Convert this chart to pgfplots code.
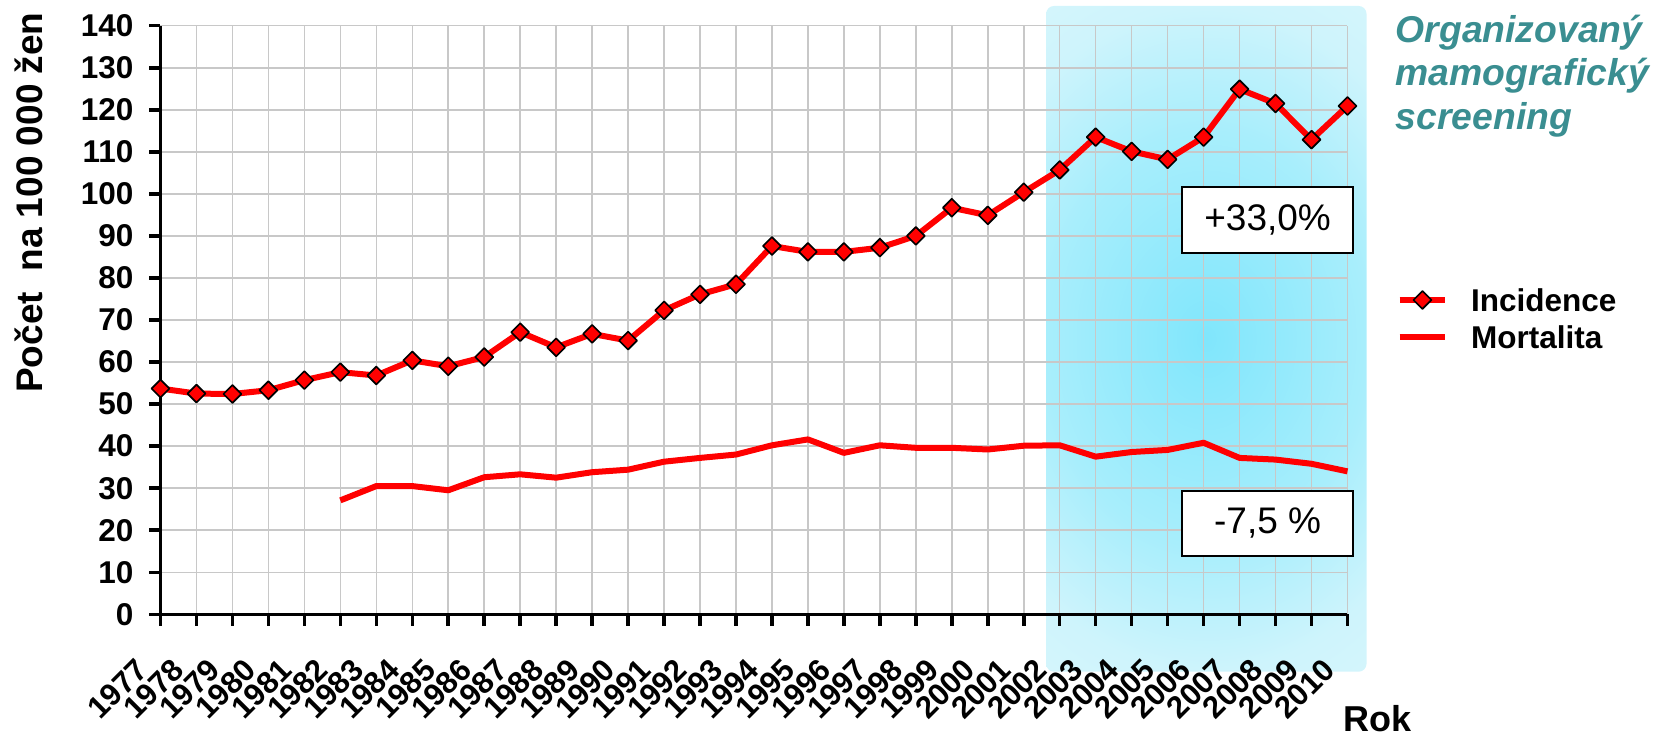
\documentclass[border=0pt]{standalone}
\usepackage{fontspec}
\setmainfont{Liberation Sans}
\usepackage{pgfplots}
\pgfplotsset{compat=1.18}
\definecolor{gridgray}{RGB}{200,200,200}
\definecolor{tealtxt}{RGB}{58,142,145}
\definecolor{sc0}{RGB}{128,230,252}
\definecolor{sc1}{RGB}{168,238,252}
\definecolor{sc2}{RGB}{206,244,252}
\definecolor{sc3}{RGB}{220,247,253}
\pgfdeclareradialshading{screen}{\pgfpoint{0bp}{0bp}}{color(0bp)=(sc0); color(15.6bp)=(sc1); color(25bp)=(sc2); color(36bp)=(sc3); color(50bp)=(sc3)}

\begin{document}
\begin{tikzpicture}
\begin{axis}[
  set layers,
  scale only axis, width=356.1pt, height=176.58pt,
  at={(0,0)}, anchor=south west,
  xmin=1977, xmax=2010, ymin=0, ymax=140,
  xtick={1977,1978,...,2010}, ytick={0,10,...,140},
  axis x line*=bottom, axis y line*=left,
  axis line style={line width=1.05pt, -},
  tick align=outside, major tick length=3.45pt,
  tick style={line width=1.05pt, black},
  grid=major, grid style={gridgray, line width=0.45pt},
  clip=false,
  /pgf/number format/assume math mode=true,
  /pgf/number format/1000 sep={},
  xticklabel style={inner sep=0pt, font=\bfseries\fontsize{9.3}{10}\selectfont, xshift=-5.4pt, yshift=-11.4pt, rotate=45, anchor=east},
  yticklabel style={inner sep=0pt, font=\bfseries\fontsize{9.45}{10}\selectfont, xshift=-4.5pt, anchor=east},
  ylabel={Počet\ \ na 100 000 žen},
  ylabel style={font=\bfseries\fontsize{11.1}{12}\selectfont, inner sep=0pt, at={(axis description cs:-0.09975,0.6995)}, anchor=base},
  xlabel={Rok},
  xlabel style={font=\bfseries\fontsize{10.8}{12}\selectfont, inner sep=0pt, at={(axis description cs:0.9958,-0.1995)}, anchor=base west},
  legend style={at={(axis description cs:1.0409,0.5026)}, anchor=west, draw=none, fill=none, inner sep=0pt,
    row sep=4.3pt, column sep=6.9pt, font=\bfseries\fontsize{9.45}{10}\selectfont,
    nodes={inner sep=0pt, text height=6.8pt, text depth=0pt}},
  legend cell align=left,
  legend image code/.code={\draw[mark repeat=2, mark phase=2, #1] plot coordinates {(0pt,0pt) (6.825pt,0pt) (13.65pt,0pt)};},
]
\begin{pgfonlayer}{axis background}
\begin{scope}
\clip[rounded corners=2.4pt] (axis cs:2001.62,-13.65) rectangle (axis cs:2010.53,144.7);
\shade[shading=screen] (axis cs:1998.94,-13.65) rectangle (axis cs:2013.2,144.7);
\end{scope}
\end{pgfonlayer}

\addplot[red, line width=1.8pt, line join=round, mark=square*, mark size=1.9pt,
  mark options={rotate=45, fill=red, draw=black, line width=0.5pt}] coordinates {
(1977,53.7) (1978,52.5) (1979,52.4) (1980,53.3) (1981,55.7) (1982,57.6) (1983,56.8)
(1984,60.4) (1985,59.0) (1986,61.2) (1987,67.1) (1988,63.5) (1989,66.7) (1990,65.1)
(1991,72.3) (1992,76.1) (1993,78.5) (1994,87.6) (1995,86.2) (1996,86.2) (1997,87.2)
(1998,90.0) (1999,96.7) (2000,94.9) (2001,100.4) (2002,105.7) (2003,113.5) (2004,110.1)
(2005,108.2) (2006,113.5) (2007,124.9) (2008,121.5) (2009,112.9) (2010,120.9)};
\addlegendentry{Incidence}
\addplot[red, line width=1.8pt, line join=round] coordinates {
(1982,27.1) (1983,30.5) (1984,30.5) (1985,29.5) (1986,32.6) (1987,33.3) (1988,32.5)
(1989,33.8) (1990,34.4) (1991,36.3) (1992,37.2) (1993,38.0) (1994,40.2) (1995,41.6)
(1996,38.4) (1997,40.2) (1998,39.6) (1999,39.6) (2000,39.2) (2001,40.1) (2002,40.2)
(2003,37.5) (2004,38.6) (2005,39.1) (2006,40.8) (2007,37.2) (2008,36.8) (2009,35.8)
(2010,34.0)};
\addlegendentry{Mortalita}

\node[draw=black, line width=0.6pt, fill=white, minimum width=51.3pt, minimum height=19.7pt, inner sep=0pt,
  font=\fontsize{11.1}{12}\selectfont] at (axis cs:2007.78,93.8) {+33,0\%};
\node[draw=black, line width=0.6pt, fill=white, minimum width=51.3pt, minimum height=19.7pt, inner sep=0pt,
  font=\fontsize{11.1}{12}\selectfont] at (axis cs:2007.78,21.6) {-7,5 \%};

\node[anchor=base west, inner sep=0pt, text=tealtxt, font=\bfseries\itshape\fontsize{11.2}{13}\selectfont] at (axis cs:2011.32,136.0) {Organizovaný};
\node[anchor=base west, inner sep=0pt, text=tealtxt, font=\bfseries\itshape\fontsize{11.2}{13}\selectfont] at (axis cs:2011.32,125.7) {mamografický};
\node[anchor=base west, inner sep=0pt, text=tealtxt, font=\bfseries\itshape\fontsize{11.2}{13}\selectfont] at (axis cs:2011.32,115.2) {screening};
\end{axis}
\pgfresetboundingbox
\useasboundingbox (-48.15pt,-36.51pt) rectangle (448.35pt,184.29pt);
\end{tikzpicture}
\end{document}
